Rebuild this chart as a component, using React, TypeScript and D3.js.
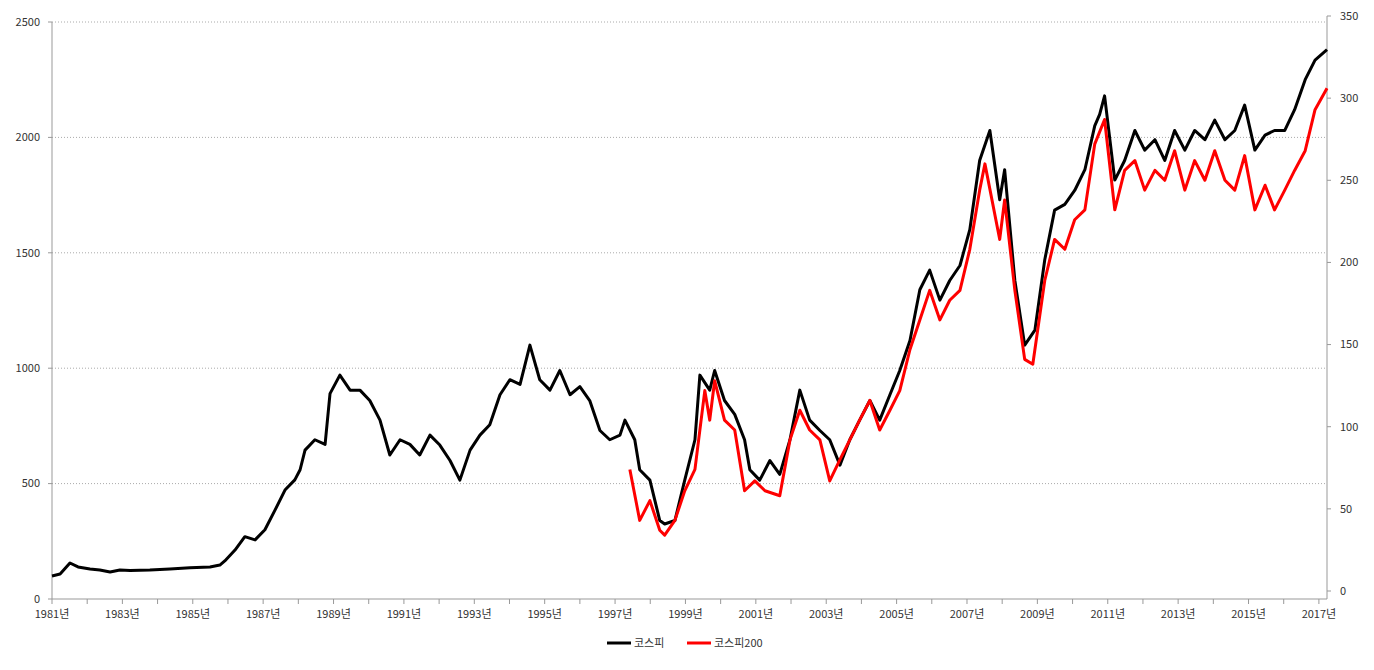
import React from 'react'
import * as d3 from 'd3'

// KOSPI (left axis) [year, value]
const kospi: [number, number][] = [
  [1981.0, 100], [1981.23, 108], [1981.51, 156], [1981.74, 139], [1982.08, 130], [1982.36, 126],
  [1982.65, 117], [1982.93, 126], [1983.22, 124], [1983.78, 126], [1984.35, 130], [1984.92, 135],
  [1985.49, 139], [1985.77, 147], [1985.91, 165], [1986.2, 212], [1986.48, 270], [1986.77, 256],
  [1987.05, 300], [1987.34, 386], [1987.62, 472], [1987.9, 516], [1988.05, 560], [1988.19, 645],
  [1988.47, 690], [1988.76, 670], [1988.9, 890], [1989.18, 970], [1989.47, 905], [1989.75, 905],
  [1990.03, 860], [1990.32, 775], [1990.6, 624], [1990.89, 690], [1991.17, 670], [1991.45, 624],
  [1991.74, 710], [1992.02, 667], [1992.31, 600], [1992.59, 515], [1992.88, 645], [1993.16, 710],
  [1993.44, 755], [1993.73, 885], [1994.01, 950], [1994.3, 930], [1994.58, 1100], [1994.86, 950],
  [1995.15, 905], [1995.43, 990], [1995.72, 885], [1996.0, 920], [1996.28, 860], [1996.57, 730],
  [1996.85, 690], [1997.14, 710], [1997.28, 775], [1997.56, 690], [1997.7, 560], [1997.99, 515],
  [1998.27, 340], [1998.41, 325], [1998.7, 340], [1998.98, 515], [1999.27, 690], [1999.41, 970],
  [1999.69, 905], [1999.83, 990], [2000.11, 860], [2000.4, 800], [2000.68, 690], [2000.83, 560],
  [2001.11, 515], [2001.4, 600], [2001.68, 540], [2001.97, 690], [2002.25, 905], [2002.53, 775],
  [2002.82, 730], [2003.1, 690], [2003.39, 580], [2003.67, 690], [2003.95, 775], [2004.24, 860],
  [2004.52, 775], [2004.81, 885], [2005.09, 990], [2005.38, 1120], [2005.66, 1340], [2005.94, 1425],
  [2006.23, 1295], [2006.51, 1380], [2006.8, 1445], [2007.08, 1600], [2007.36, 1900], [2007.65, 2030],
  [2007.93, 1730], [2008.07, 1860], [2008.36, 1380], [2008.64, 1100], [2008.93, 1165], [2009.21, 1470],
  [2009.49, 1685], [2009.78, 1710], [2010.06, 1770], [2010.35, 1860], [2010.63, 2050], [2010.77, 2100],
  [2010.91, 2180], [2011.2, 1815], [2011.48, 1900], [2011.77, 2030], [2012.05, 1945], [2012.34, 1990],
  [2012.62, 1900], [2012.9, 2030], [2013.19, 1945], [2013.47, 2030], [2013.76, 1990], [2014.04, 2075],
  [2014.33, 1990], [2014.61, 2030], [2014.89, 2140], [2015.18, 1945], [2015.47, 2010], [2015.74, 2030],
  [2016.03, 2030], [2016.31, 2120], [2016.61, 2250], [2016.89, 2335], [2017.23, 2380],
]

// KOSPI200 (right axis)
const kospi200: [number, number][] = [
  [1997.42, 74], [1997.7, 43], [1997.99, 55], [1998.27, 37], [1998.41, 34], [1998.7, 43],
  [1998.98, 61], [1999.27, 74], [1999.55, 122], [1999.69, 104], [1999.83, 128], [2000.11, 104],
  [2000.4, 98], [2000.68, 61], [2000.97, 67], [2001.26, 61], [2001.68, 58], [2001.97, 92],
  [2002.25, 110], [2002.53, 98], [2002.82, 92], [2003.1, 67], [2003.39, 80], [2003.67, 92],
  [2003.95, 104], [2004.24, 116], [2004.52, 98], [2004.81, 110], [2005.09, 122], [2005.38, 147],
  [2005.66, 165], [2005.94, 183], [2006.23, 165], [2006.51, 177], [2006.8, 183], [2007.08, 208],
  [2007.36, 244], [2007.51, 260], [2007.93, 214], [2008.07, 238], [2008.36, 183], [2008.64, 141],
  [2008.87, 138], [2009.21, 189], [2009.49, 214], [2009.78, 208], [2010.06, 226], [2010.35, 232],
  [2010.63, 272], [2010.91, 287], [2011.2, 232], [2011.48, 256], [2011.77, 262], [2012.05, 244],
  [2012.34, 256], [2012.62, 250], [2012.9, 268], [2013.19, 244], [2013.47, 262], [2013.76, 250],
  [2014.04, 268], [2014.33, 250], [2014.61, 244], [2014.89, 265], [2015.18, 232], [2015.47, 247],
  [2015.74, 232], [2016.03, 244], [2016.31, 256], [2016.61, 268], [2016.89, 293], [2017.23, 306],
]

const leftTicks = [0, 500, 1000, 1500, 2000, 2500]
const rightTicks = [0, 50, 100, 150, 200, 250, 300, 350]
const yearTicks = d3.range(1981, 2019, 2)
const seriesNames = ['코스피', '코스피200']
const seriesColors = ['#000000', '#ff0000']

const W = 1374, H = 670
const font = "'Noto Sans CJK KR', 'DejaVu Sans', sans-serif"

export default function App() {
  React.useEffect(() => { document.body.style.margin = '0' }, [])
  const x = d3.scaleLinear().domain([1981, 2017.23]).range([52, 1327])
  const y = d3.scaleLinear().domain([0, 2500]).range([599, 22])
  const y2 = d3.scaleLinear().domain([0, 350]).range([591, 16])
  const line1 = d3.line<[number, number]>().x(d => x(d[0])).y(d => y(d[1]))
  const line2 = d3.line<[number, number]>().x(d => x(d[0])).y(d => y2(d[1]))
  return (
    <svg width={W} height={H} style={{ display: 'block', background: '#fff' }} fontFamily={font}>
      {leftTicks.slice(1).map(t => (
        <line key={t} x1={52} x2={1327} y1={y(t)} y2={y(t)} stroke="#aaa" strokeDasharray="1,2" />
      ))}
      <line x1={52} x2={52} y1={22} y2={599} stroke="#999" />
      <line x1={1327} x2={1327} y1={16} y2={599} stroke="#999" />
      <line x1={52} x2={1327} y1={599} y2={599} stroke="#999" />
      {leftTicks.map(t => (
        <g key={t}>
          <line x1={48} x2={52} y1={y(t)} y2={y(t)} stroke="#999" />
          <text x={40} y={y(t)} dy="0.35em" textAnchor="end" fontSize={11} fill="#333">{t}</text>
        </g>
      ))}
      {rightTicks.map(t => (
        <g key={t}>
          <line x1={1327} x2={1331} y1={y2(t)} y2={y2(t)} stroke="#999" />
          <text x={1340} y={y2(t)} dy="0.35em" fontSize={11} fill="#333">{t}</text>
        </g>
      ))}
      {d3.range(1981, 2018).map(t => (
        <line key={t} x1={x(t)} x2={x(t)} y1={599} y2={604} stroke="#999" />
      ))}
      {yearTicks.filter(t => t <= 2017).map(t => (
        <text key={t} x={x(t)} y={618} textAnchor="middle" fontSize={11} fill="#333">{t}년</text>
      ))}
      <path d={line1(kospi) ?? ''} fill="none" stroke={seriesColors[0]} strokeWidth={3} strokeLinejoin="round" />
      <path d={line2(kospi200) ?? ''} fill="none" stroke={seriesColors[1]} strokeWidth={3} strokeLinejoin="round" />
      {seriesNames.map((n, i) => (
        <g key={n} transform={`translate(${607 + i * 80},643)`}>
          <line x1={0} x2={24} stroke={seriesColors[i]} strokeWidth={3} />
          <text x={27} dy="0.35em" fontSize={11} fill="#333">{n}</text>
        </g>
      ))}
    </svg>
  )
}
